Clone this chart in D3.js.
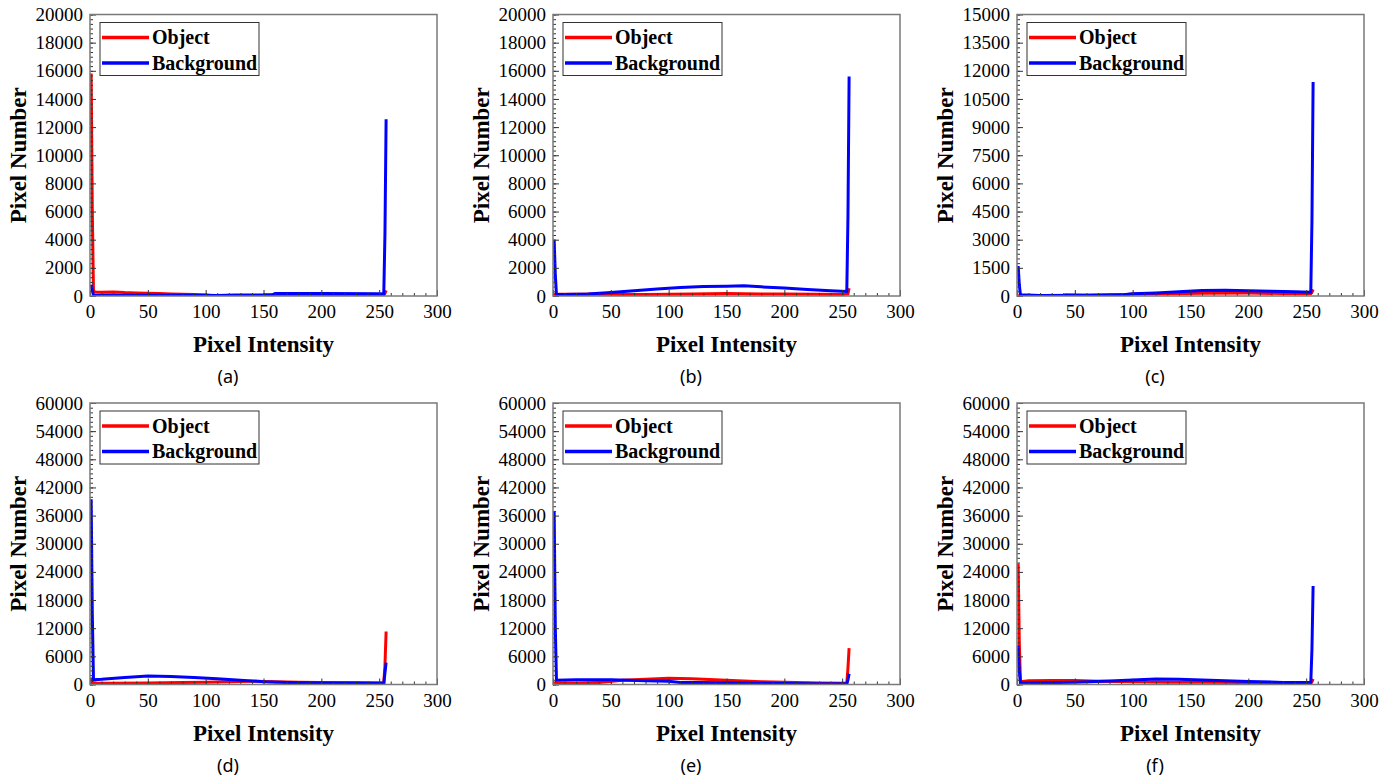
<!DOCTYPE html>
<html>
<head>
<meta charset="utf-8">
<script src="https://cdn.jsdelivr.net/npm/d3@7"></script>
<style>
body { margin: 0; background: #fff; }
</style>
</head>
<body>
<div id="app"></div>
<script>
// histogram samples: [intensity, pixel count]
const aObject = [[1,15800],[2,6000],[3,300],[5,280],[10,260],[20,280],[30,240],[40,220],[50,200],[60,170],[70,140],[80,120],[90,100],[100,80],[105,30],[120,20],[150,30],[160,60],[200,60],[250,60],[254,80],[255,200],[256,400]]
const aBackground = [[1,800],[2,400],[3,60],[10,50],[50,50],[100,50],[110,40],[125,70],[150,80],[158,100],[160,170],[200,170],[250,160],[254,150],[255,4400],[256,12550]]

const bObject = [[1,200],[2,100],[5,120],[20,130],[40,140],[60,100],[80,110],[100,130],[120,150],[150,170],[180,150],[200,140],[230,120],[250,110],[255,150],[256,550]]
const bBackground = [[1,4000],[2,1500],[3,100],[10,100],[30,140],[50,250],[70,380],[90,500],[110,600],[130,680],[150,700],[165,720],[180,650],[200,560],[220,470],[240,380],[254,320],[255,5600],[256,15600]]

const cObject = [[1,50],[3,0],[40,0],[42,60],[60,40],[90,60],[100,100],[130,120],[160,150],[200,160],[230,130],[254,120],[255,200],[256,350]]
const cBackground = [[1,1600],[2,600],[3,60],[20,30],[60,40],[90,60],[100,120],[120,160],[140,220],[160,290],[180,300],[200,280],[220,250],[240,220],[254,200],[255,4000],[256,11400]]

const dObject = [[1,1500],[2,400],[5,300],[20,250],[50,300],[80,400],[100,500],[120,600],[140,700],[160,600],[180,500],[200,450],[230,400],[254,350],[255,4000],[256,11300]]
const dBackground = [[1,39500],[2,15000],[3,1000],[10,1100],[30,1500],[50,1800],[70,1700],[90,1500],[110,1200],[130,900],[150,600],[170,450],[200,300],[230,200],[254,200],[255,2500],[256,4650]]

const eObject = [[1,500],[3,300],[20,300],[40,400],[60,900],[80,1100],[100,1350],[120,1200],[140,1000],[160,800],[180,600],[200,500],[230,300],[254,250],[255,3500],[256,7750]]
const eBackground = [[1,37000],[2,12000],[3,900],[20,1000],[50,1000],[80,800],[100,700],[110,450],[130,400],[150,350],[180,250],[200,200],[230,150],[254,150],[255,1000],[256,2300]]

const fObject = [[1,25800],[2,9000],[3,600],[10,800],[30,850],[50,850],[70,700],[100,600],[130,500],[160,500],[200,400],[230,300],[254,300],[255,600],[256,1200]]
const fBackground = [[1,8300],[2,3000],[3,300],[20,350],[50,500],[80,750],[100,950],[120,1150],[140,1100],[160,950],[180,800],[200,640],[230,450],[254,430],[255,7500],[256,21000]]

const yMax = [20000, 20000, 15000, 60000, 60000, 60000]
const yStep = [2000, 2000, 1500, 6000, 6000, 6000]
const xTicks = [0, 50, 100, 150, 200, 250, 300]
const captions = ['(a)', '(b)', '(c)', '(d)', '(e)', '(f)']
const legendLabels = ['Object', 'Background']

const panels = [
  [aObject, aBackground], [bObject, bBackground], [cObject, cBackground],
  [dObject, dBackground], [eObject, eBackground], [fObject, fBackground]
]

const colors = ['#ff0000', '#0000ff']
const lefts = [90, 553, 1017]
const tops = [14.5, 403]
const w = 347, h = 281.5
const serif = '"Liberation Serif", "Times New Roman", serif'

var svg = d3.select('#app').append('svg').attr('width', 1399).attr('height', 781)

panels.forEach((series, i) => {
  const px = lefts[i % 3], py = tops[Math.floor(i / 3)]
  const g = svg.append('g').attr('transform', `translate(${px},${py})`)

  const x = d3.scaleLinear().domain([0, 300]).range([0, w])
  const y = d3.scaleLinear().domain([0, yMax[i]]).range([h, 0])

  g.append('clipPath').attr('id', 'clip' + i)
    .append('rect').attr('width', w).attr('height', h)

  const line = d3.line().x(d => x(d[0])).y(d => y(d[1]))
  series.forEach((s, k) => {
    g.append('path').datum(s)
      .attr('clip-path', `url(#clip${i})`)
      .attr('d', line)
      .attr('fill', 'none')
      .attr('stroke', colors[k])
      .attr('stroke-width', 3)
      .attr('stroke-linejoin', 'miter')
  })

  // minor ticks
  const yMinor = d3.range(0, yMax[i] + 1, yStep[i] / 6)
  g.append('g').call(d3.axisLeft(y).tickValues(yMinor).tickSize(-3).tickFormat(''))
  g.append('g').attr('transform', `translate(0,${h})`)
    .call(d3.axisBottom(x).tickValues(d3.range(0, 301, 10)).tickSize(-3).tickFormat(''))

  // major ticks + labels
  const yAxis = g.append('g')
    .call(d3.axisLeft(y).tickValues(d3.range(0, yMax[i] + 1, yStep[i])).tickSize(-6).tickPadding(7).tickFormat(d3.format('d')))
  const xAxis = g.append('g').attr('transform', `translate(0,${h})`)
    .call(d3.axisBottom(x).tickValues(xTicks).tickSize(-6).tickPadding(9))

  g.selectAll('.domain').remove()
  g.selectAll('.tick line').attr('stroke', '#333').attr('stroke-width', 1)
  g.selectAll('.tick text').style('font-family', serif).style('font-size', '19px').attr('fill', '#000')

  g.append('rect').attr('width', w).attr('height', h)
    .attr('fill', 'none').attr('stroke', '#7a7a7a').attr('stroke-width', 1.5)

  // legend
  const lg = g.append('g').attr('transform', 'translate(10,8)')
  lg.append('rect').attr('width', 159).attr('height', 53)
    .attr('fill', '#fff').attr('stroke', '#333').attr('stroke-width', 1)
  legendLabels.forEach((lab, k) => {
    const ly = 15 + k * 25.5
    lg.append('line').attr('x1', 2).attr('x2', 49).attr('y1', ly).attr('y2', ly)
      .attr('stroke', colors[k]).attr('stroke-width', 3.5)
    lg.append('text').attr('x', 52).attr('y', ly + 6.5).text(lab)
      .style('font-family', serif).style('font-weight', 'bold').style('font-size', '20px')
  })

  // axis titles
  g.append('text').attr('x', w / 2).attr('y', h + 56).attr('text-anchor', 'middle')
    .text('Pixel Intensity')
    .style('font-family', serif).style('font-weight', 'bold').style('font-size', '23px')
  g.append('text').attr('transform', `translate(-64,${h / 2}) rotate(-90)`).attr('text-anchor', 'middle')
    .text('Pixel Number')
    .style('font-family', serif).style('font-weight', 'bold').style('font-size', '23px')

  g.append('text').attr('x', 138).attr('y', h + 87).attr('text-anchor', 'middle')
    .text(captions[i])
    .style('font-family', '"Noto Sans", "Open Sans", sans-serif').style('font-size', '18px')
})
</script>
</body>
</html>
